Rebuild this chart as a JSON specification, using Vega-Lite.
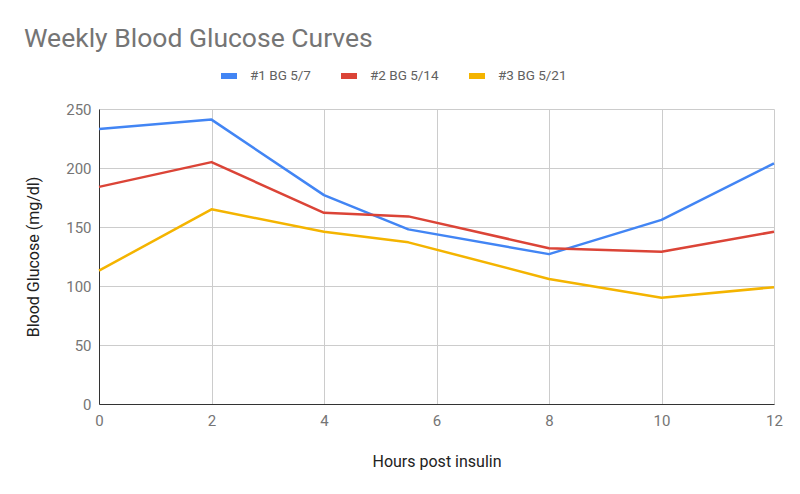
{
  "$schema": "https://vega.github.io/schema/vega-lite/v6.json",
  "width": 675,
  "height": 295,
  "autosize": {"type": "none"},
  "padding": {"left": 99, "top": 109, "right": 26, "bottom": 90},
  "background": "white",
  "title": {
    "text": "Weekly Blood Glucose Curves",
    "anchor": "start",
    "frame": "group",
    "dx": -75,
    "offset": 13,
    "font": "Roboto",
    "fontSize": 26.5,
    "fontWeight": "normal",
    "color": "#757575"
  },
  "data": {
    "values": [
      {"hour": 0, "bg": 233, "series": "#1 BG 5/7"},
      {"hour": 2, "bg": 241, "series": "#1 BG 5/7"},
      {"hour": 4, "bg": 177, "series": "#1 BG 5/7"},
      {"hour": 5.5, "bg": 148, "series": "#1 BG 5/7"},
      {"hour": 8, "bg": 127, "series": "#1 BG 5/7"},
      {"hour": 10, "bg": 156, "series": "#1 BG 5/7"},
      {"hour": 12, "bg": 204, "series": "#1 BG 5/7"},
      {"hour": 0, "bg": 184, "series": "#2 BG 5/14"},
      {"hour": 2, "bg": 205, "series": "#2 BG 5/14"},
      {"hour": 4, "bg": 162, "series": "#2 BG 5/14"},
      {"hour": 5.5, "bg": 159, "series": "#2 BG 5/14"},
      {"hour": 8, "bg": 132, "series": "#2 BG 5/14"},
      {"hour": 10, "bg": 129, "series": "#2 BG 5/14"},
      {"hour": 12, "bg": 146, "series": "#2 BG 5/14"},
      {"hour": 0, "bg": 113, "series": "#3 BG 5/21"},
      {"hour": 2, "bg": 165, "series": "#3 BG 5/21"},
      {"hour": 4, "bg": 146, "series": "#3 BG 5/21"},
      {"hour": 5.5, "bg": 137, "series": "#3 BG 5/21"},
      {"hour": 8, "bg": 106, "series": "#3 BG 5/21"},
      {"hour": 10, "bg": 90, "series": "#3 BG 5/21"},
      {"hour": 12, "bg": 99, "series": "#3 BG 5/21"}
    ]
  },
  "mark": {"type": "line", "strokeWidth": 2.5, "strokeJoin": "round"},
  "encoding": {
    "x": {
      "field": "hour",
      "type": "quantitative",
      "scale": {"domain": [0, 12], "nice": false},
      "axis": {
        "title": "Hours post insulin",
        "values": [0, 2, 4, 6, 8, 10, 12],
        "grid": true,
        "gridColor": "#cccccc",
        "ticks": false,
        "domain": true,
        "domainColor": "#333333",
        "labelFlush": false,
        "labelFont": "Roboto",
        "labelFontSize": 15,
        "labelColor": "#757575",
        "labelPadding": 9,
        "titleFont": "Roboto",
        "titleFontSize": 16,
        "titleFontWeight": "normal",
        "titleColor": "#222222",
        "titlePadding": 25
      }
    },
    "y": {
      "field": "bg",
      "type": "quantitative",
      "scale": {"domain": [0, 250], "nice": false},
      "axis": {
        "title": "Blood Glucose (mg/dl)",
        "values": [0, 50, 100, 150, 200, 250],
        "grid": true,
        "gridColor": "#cccccc",
        "ticks": false,
        "domain": true,
        "domainColor": "#333333",
        "labelFont": "Roboto",
        "labelFontSize": 15,
        "labelColor": "#757575",
        "labelPadding": 8,
        "titleFont": "Roboto",
        "titleFontSize": 16,
        "titleFontWeight": "normal",
        "titleColor": "#222222",
        "titlePadding": 24
      }
    },
    "color": {
      "field": "series",
      "type": "nominal",
      "sort": ["#1 BG 5/7", "#2 BG 5/14", "#3 BG 5/21"],
      "scale": {
        "domain": ["#1 BG 5/7", "#2 BG 5/14", "#3 BG 5/21"],
        "range": ["#4285F4", "#DB4437", "#F4B400"]
      },
      "legend": {
        "title": null,
        "orient": "none",
        "direction": "horizontal",
        "legendX": 119,
        "legendY": -44,
        "symbolType": "stroke",
        "symbolSize": 256,
        "symbolStrokeWidth": 6,
        "labelFont": "Roboto",
        "labelFontSize": 13.5,
        "labelColor": "#616161",
        "labelOffset": 10,
        "columnPadding": 18
      }
    }
  },
  "config": {"view": {"stroke": null}}
}
